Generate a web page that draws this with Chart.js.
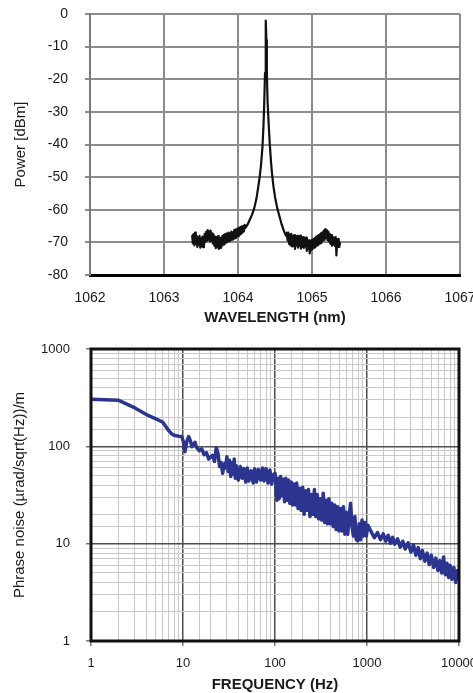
<!DOCTYPE html>
<html>
<head>
<meta charset="utf-8">
<title>Laser spectrum and phase noise</title>
<script src="https://cdn.jsdelivr.net/npm/chart.js@4/dist/chart.umd.min.js"></script>
<style>
    html, body { margin: 0; padding: 0; background: #fff; overflow: hidden; }
    body { width: 473px; height: 693px; position: relative; }
    .panel { position: absolute; left: 0; }
    #spectrumPanel { top: 0; }
    #noisePanel { top: 330px; }
</style>
</head>
<body>
<div class="panel" id="spectrumPanel"><canvas id="spectrumChart" width="473" height="330"></canvas></div>
<div class="panel" id="noisePanel"><canvas id="noiseChart" width="473" height="363"></canvas></div>
<script>
// Top panel: optical spectrum
const wavelengths = [
    1063.38, 1063.39, 1063.40, 1063.41, 1063.42, 1063.43, 1063.44, 1063.45, 1063.46, 1063.47,
    1063.48, 1063.49, 1063.50, 1063.51, 1063.52, 1063.53, 1063.54, 1063.55, 1063.56, 1063.57,
    1063.58, 1063.59, 1063.60, 1063.61, 1063.62, 1063.63, 1063.64, 1063.65, 1063.66, 1063.67,
    1063.68, 1063.69, 1063.70, 1063.71, 1063.72, 1063.73, 1063.74, 1063.75, 1063.76, 1063.77,
    1063.78, 1063.79, 1063.80, 1063.81, 1063.82, 1063.83, 1063.84, 1063.85, 1063.86, 1063.87,
    1063.88, 1063.89, 1063.90, 1063.91, 1063.92, 1063.93, 1063.94, 1063.95, 1063.96, 1063.97,
    1063.98, 1063.99, 1064.00, 1064.01, 1064.02, 1064.03, 1064.04, 1064.05, 1064.06, 1064.07,
    1064.08, 1064.09, 1064.10,
    1064.13, 1064.16, 1064.19, 1064.22, 1064.25, 1064.27, 1064.29, 1064.31, 1064.33, 1064.345,
    1064.355, 1064.365, 1064.372, 1064.378, 1064.384, 1064.39, 1064.40, 1064.415, 1064.43, 1064.445,
    1064.46, 1064.48, 1064.50, 1064.53, 1064.56, 1064.59, 1064.62, 1064.65,
    1064.66, 1064.67, 1064.68, 1064.69, 1064.70, 1064.71, 1064.72, 1064.73, 1064.74, 1064.75,
    1064.76, 1064.77, 1064.78, 1064.79, 1064.80, 1064.81, 1064.82, 1064.83, 1064.84, 1064.85,
    1064.86, 1064.87, 1064.88, 1064.89, 1064.90, 1064.91, 1064.92, 1064.93, 1064.94, 1064.95,
    1064.96, 1064.97, 1064.98, 1064.99, 1065.00, 1065.01, 1065.02, 1065.03, 1065.04, 1065.05,
    1065.06, 1065.07, 1065.08, 1065.09, 1065.10, 1065.11, 1065.12, 1065.13, 1065.14, 1065.15,
    1065.16, 1065.17, 1065.18, 1065.19, 1065.20, 1065.21, 1065.22, 1065.23, 1065.24, 1065.25,
    1065.26, 1065.27, 1065.28, 1065.29, 1065.30, 1065.31, 1065.32, 1065.33, 1065.34, 1065.35,
    1065.36, 1065.37, 1065.38
];
const powerDbm = [
    -67.8, -70.3, -67.5, -70.9, -67.0, -70.4, -68.0, -71.4, -68.5, -70.7,
    -68.0, -71.6, -68.8, -71.2, -68.2, -71.5, -69.3, -67.4, -69.9, -66.8,
    -69.5, -66.2, -69.2, -66.6, -69.7, -66.4, -69.4, -67.3, -70.3, -67.6,
    -71.0, -68.3, -71.8, -68.4, -71.3, -68.1, -72.0, -68.9, -71.7, -68.6,
    -71.2, -68.0, -70.7, -67.7, -70.5, -67.4, -70.0, -67.3, -69.8, -67.0,
    -69.6, -67.2, -69.4, -66.7, -69.2, -66.9, -69.0, -66.2, -68.7, -66.1,
    -68.3, -65.8, -68.1, -65.6, -67.8, -65.3, -67.4, -65.1, -67.0, -65.0,
    -66.6, -64.6, -65.6,
    -64.5, -63.0, -61.5, -59.5, -56.5, -53.5, -50.5, -46.5, -41, -34,
    -27, -18, -8, -2, -8, -18, -27, -34, -40, -45,
    -49, -53, -56, -59.5, -62, -64.5, -66.5, -68,
    -67.0, -69.4, -67.0, -70.5, -67.6, -70.9, -67.4, -71.2, -68.1, -70.5,
    -67.8, -72.0, -68.5, -70.9, -68.0, -71.6, -68.4, -71.1, -67.9, -71.9,
    -68.7, -71.4, -68.4, -71.7, -68.8, -71.2, -68.5, -72.6, -69.3, -72.0,
    -69.4, -73.4, -69.7, -72.4, -69.2, -72.0, -69.0, -71.6, -68.6, -71.3,
    -68.2, -70.9, -67.9, -70.6, -67.6, -70.3, -67.2, -70.1, -66.9, -69.4,
    -66.4, -69.2, -65.9, -68.6, -66.2, -69.3, -66.7, -69.8, -67.4, -70.5,
    -67.8, -71.0, -68.3, -70.7, -68.6, -71.1, -68.4, -74.0, -69.0, -71.5,
    -68.9, -71.4, -70.0
];
const wavelengthTicks = [1062, 1063, 1064, 1065, 1066, 1067];
const powerTicks = [0, -10, -20, -30, -40, -50, -60, -70, -80];

// Bottom panel: phase noise spectrum
const frequencies = [
    1, 2, 3, 4, 5, 6, 6.5, 7, 7.5, 8, 9, 9.7,
    10.2, 10.5, 11, 11.5, 12, 12.5, 13, 13.5, 14, 15, 16, 17, 18, 19, 20,
    21, 22, 23, 24, 25, 26, 27, 28, 29, 30, 31, 32, 33, 34, 35, 36, 37, 38,
    40, 42, 44, 46, 48, 50, 52, 55, 58, 60, 63, 66, 70, 73, 76, 80, 84, 88, 92, 96,
    100, 103, 105, 108, 111, 115, 119, 123, 127, 131, 136, 140, 145, 150, 155, 160,
    166, 172, 178, 185, 192, 200, 207, 215, 223, 231, 240, 249, 258, 268, 278, 288,
    299, 310, 322, 334, 346, 359, 372, 386, 400, 415, 430, 446, 462, 479, 497, 515,
    534, 554, 574, 595, 617, 640, 663, 687, 712, 738, 765, 793, 822, 852, 883, 915,
    949, 984, 1020, 1100, 1200, 1300, 1400, 1500, 1600, 1700, 1800, 1900, 2000,
    2150, 2300, 2450, 2600, 2800, 3000, 3200, 3400, 3600, 3800, 4000, 4250, 4500,
    4750, 5000, 5300, 5600, 5900, 6200, 6500, 6800, 7100, 7400, 7700, 8000, 8400,
    8800, 9200, 9600, 10000
];
const phaseNoise = [
    305, 297, 248, 212, 193, 178, 160, 145, 135, 130, 127, 126,
    108, 88, 112, 126, 115, 99, 104, 110, 98, 90, 94, 82, 86, 74, 78,
    81, 70, 97, 85, 62, 68, 53, 66, 60, 78, 55, 72, 49, 68, 52, 74, 47, 63,
    45, 62, 47, 59, 43, 60, 44, 56, 42, 59, 43, 58, 45, 60, 44, 59, 42, 57, 41, 51,
    53, 38, 28, 47, 29, 49, 31, 46, 27, 47, 28, 45, 26, 43, 25, 41,
    25, 42, 23, 37, 22, 38, 20, 35, 22, 36, 19, 32, 20, 36, 19, 32,
    18, 29, 17.5, 33, 16.5, 28, 16, 29, 16, 26, 15, 25, 14, 24, 13.5, 23,
    13.5, 24, 12.5, 21, 12.5, 19, 26, 15, 12, 19, 11, 10.7, 16, 11, 17.5, 12,
    16.5, 12, 15.5, 13.5, 11.5, 13, 11, 12.6, 10.6, 12.2, 10.1, 11.6, 9.9,
    11.2, 9.2, 10.6, 8.8, 10.2, 8.2, 9.7, 7.6, 9.1, 7.0, 8.5, 6.6, 8.0,
    6.1, 7.6, 5.7, 7.1, 5.3, 6.7, 5.0, 7.3, 4.8, 6.3, 4.5, 6.0, 4.3,
    5.7, 4.0, 5.3, 4.2
];
const frequencyTicks = [1, 10, 100, 1000, 10000];
const noiseTicks = [1, 10, 100, 1000];

document.addEventListener('DOMContentLoaded', () => {
    Chart.defaults.font.family = "'Liberation Sans', Arial, Helvetica, sans-serif";
    Chart.defaults.color = '#1a1a1a';
    Chart.defaults.animation = false;

    // Draws a closed frame around the plot area
    const framePlugin = {
        id: 'frame',
        afterDatasetsDraw(chart, args, opts) {
            if (!opts.width) return;
            const { ctx, chartArea: a } = chart;
            ctx.save();
            ctx.strokeStyle = opts.color;
            ctx.lineWidth = opts.width;
            ctx.strokeRect(a.left, a.top, a.right - a.left, a.bottom - a.top);
            ctx.restore();
        }
    };

    const titleFont = { size: 15, weight: 'bold', lineHeight: 1 };

    // Top chart
    const initSpectrumChart = () => {
        const ctx = document.getElementById('spectrumChart');
        new Chart(ctx.getContext('2d'), {
            type: 'line',
            data: {
                datasets: [{
                    data: wavelengths.map((w, i) => ({ x: w, y: powerDbm[i] })),
                    borderColor: '#111',
                    borderWidth: 2.2,
                    borderJoinStyle: 'round',
                    pointRadius: 0,
                    tension: 0
                }]
            },
            options: {
                responsive: false,
                layout: { padding: { left: 0, top: 14, right: 13, bottom: 0 } },
                plugins: { legend: { display: false }, tooltip: { enabled: false }, frame: { width: 0 } },
                scales: {
                    x: {
                        type: 'linear',
                        min: wavelengthTicks[0],
                        max: wavelengthTicks[wavelengthTicks.length - 1],
                        afterBuildTicks: s => { s.ticks = wavelengthTicks.map(v => ({ value: v })); },
                        afterFit: s => { s.height = 55; s.paddingLeft = 0; s.paddingRight = 0; },
                        ticks: { font: { size: 14 }, padding: 15, maxRotation: 0, autoSkip: false, callback: v => String(v) },
                        grid: { color: '#8c8c8c', lineWidth: 2, drawTicks: false },
                        border: { color: '#000', width: 3 },
                        title: { display: true, text: 'WAVELENGTH (nm)', font: titleFont, padding: { top: 0, bottom: 4.5 } }
                    },
                    y: {
                        min: -80,
                        max: 0,
                        afterBuildTicks: s => { s.ticks = powerTicks.slice().reverse().map(v => ({ value: v })); },
                        afterFit: s => { s.width = 90; s.paddingTop = 0; s.paddingBottom = 0; },
                        ticks: { font: { size: 14 }, padding: 17, callback: v => String(v) },
                        grid: { color: '#8c8c8c', lineWidth: 2, tickLength: 5 },
                        border: { color: '#7a7a7a', width: 2 },
                        title: { display: true, text: 'Power [dBm]', font: { size: 15, lineHeight: 1 }, padding: { top: 13.5, bottom: 0 } }
                    }
                }
            },
            plugins: [framePlugin]
        });
    };

    // Bottom chart
    const initNoiseChart = () => {
        const ctx = document.getElementById('noiseChart');
        const isDecade = (list, v) => list.includes(v);
        new Chart(ctx.getContext('2d'), {
            type: 'line',
            data: {
                datasets: [{
                    data: frequencies.map((f, i) => ({ x: f, y: phaseNoise[i] })),
                    borderColor: '#2b3590',
                    borderWidth: 3.5,
                    borderJoinStyle: 'round',
                    pointRadius: 0,
                    tension: 0
                }]
            },
            options: {
                responsive: false,
                layout: { padding: { left: 0, top: 19, right: 14, bottom: 0 } },
                plugins: { legend: { display: false }, tooltip: { enabled: false }, frame: { color: '#111', width: 3 } },
                scales: {
                    x: {
                        type: 'logarithmic',
                        min: 1,
                        max: 10000,
                        afterFit: s => { s.height = 52; s.paddingLeft = 0; s.paddingRight = 0; },
                        ticks: {
                            font: { size: 13 }, padding: 10, maxRotation: 0, autoSkip: false,
                            callback: v => isDecade(frequencyTicks, v) ? String(v) : ''
                        },
                        grid: {
                            color: c => c.tick && isDecade(frequencyTicks, c.tick.value) ? '#4d4d4d' : '#c9c9c9',
                            lineWidth: c => c.tick && isDecade(frequencyTicks, c.tick.value) ? 1.5 : 1,
                            tickColor: c => c.tick && isDecade(frequencyTicks, c.tick.value) ? '#777' : 'rgba(0,0,0,0)',
                            tickLength: 5
                        },
                        border: { display: false },
                        title: { display: true, text: 'FREQUENCY (Hz)', font: titleFont, padding: { top: 0, bottom: 0.5 } }
                    },
                    y: {
                        type: 'logarithmic',
                        min: 1,
                        max: 1000,
                        afterFit: s => { s.width = 91; s.paddingTop = 0; s.paddingBottom = 0; },
                        ticks: {
                            font: { size: 13 }, padding: 16, autoSkip: false,
                            callback: v => isDecade(noiseTicks, v) ? String(v) : ''
                        },
                        grid: {
                            color: c => c.tick && isDecade(noiseTicks, c.tick.value) ? '#4d4d4d' : '#c9c9c9',
                            lineWidth: c => c.tick && isDecade(noiseTicks, c.tick.value) ? 1.5 : 1,
                            tickColor: c => c.tick && isDecade(noiseTicks, c.tick.value) ? '#777' : 'rgba(0,0,0,0)',
                            tickLength: 5
                        },
                        border: { display: false },
                        title: { display: true, text: 'Phrase noise (µrad/sqrt(Hz))/m', font: { size: 15, lineHeight: 1 }, padding: { top: 12.5, bottom: 0 } }
                    }
                }
            },
            plugins: [framePlugin]
        });
    };

    initSpectrumChart();
    initNoiseChart();
});
</script>
</body>
</html>
